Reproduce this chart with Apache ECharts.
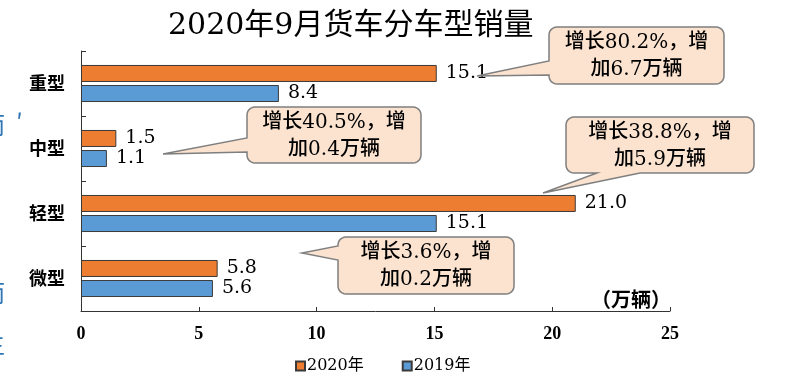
<!DOCTYPE html>
<html>
<head>
<meta charset="utf-8">
<script src="https://cdn.jsdelivr.net/npm/echarts@6/dist/echarts.min.js"></script>
<style>html,body{margin:0;padding:0;background:#fff;}#c{width:793px;height:386px;}</style>
</head>
<body>
<div id="c"></div>
<script>
const categories = ['重型', '中型', '轻型', '微型'];
const sales2020 = [15.1, 1.5, 21.0, 5.8];
const sales2019 = [8.4, 1.1, 15.1, 5.6];
const seriesNames = ['2020年', '2019年'];
const xMin = 0, xMax = 25, xStep = 5;
const calloutTexts = [
  '增长80.2%，增\n加6.7万辆',
  '增长40.5%，增\n加0.4万辆',
  '增长38.8%，增\n加5.9万辆',
  '增长3.6%，增\n加0.2万辆'
];
const titleText = '2020年9月货车分车型销量';
const unitText = '（万辆）';

// bubble layout (annotation geometry, pixels)
const bubbles = [
  {x: 549, y: 27, w: 175, h: 57, side: 'left', b1: 61, b2: 75, tip: [477, 76]},
  {x: 247, y: 107, w: 174, h: 56, side: 'left', b1: 138, b2: 152, tip: [163, 154]},
  {x: 566, y: 117, w: 188, h: 56, side: 'bottom', b1: 597, b2: 640, tip: [543, 193]},
  {x: 338, y: 237, w: 176, h: 57, side: 'left', b1: 246, b2: 260, tip: [302, 253]}
];

function arcPts(cx, cy, r, a0, a1) {
  const pts = [];
  const n = 6;
  for (let i = 0; i <= n; i++) {
    const a = a0 + (a1 - a0) * i / n;
    pts.push([cx + r * Math.cos(a), cy + r * Math.sin(a)]);
  }
  return pts;
}
function bubblePoints(b) {
  const r = 8, x = b.x, y = b.y, w = b.w, h = b.h, P = Math.PI;
  let pts = [];
  pts = pts.concat(arcPts(x + w - r, y + r, r, -P / 2, 0));
  pts = pts.concat(arcPts(x + w - r, y + h - r, r, 0, P / 2));
  if (b.side === 'bottom') {
    pts.push([b.b2, y + h], b.tip, [b.b1, y + h]);
  }
  pts = pts.concat(arcPts(x + r, y + h - r, r, P / 2, P));
  if (b.side === 'left') {
    pts.push([x, b.b2], b.tip, [x, b.b1]);
  }
  pts = pts.concat(arcPts(x + r, y + r, r, P, 1.5 * P));
  return pts;
}

const numFont = "'DejaVu Serif', 'Noto Sans CJK SC', serif";
const cjkFont = "'DejaVu Serif', 'Noto Sans CJK SC', sans-serif";

const graphics = [];
bubbles.forEach((b, i) => {
  graphics.push({
    type: 'polygon',
    shape: {points: bubblePoints(b)},
    style: {fill: '#FBE3D0', stroke: '#7F7F7F', lineWidth: 1.5},
    z: 10
  });
  graphics.push({
    type: 'text',
    x: b.x + b.w / 2,
    y: b.y + b.h / 2 + 1,
    style: {
      text: calloutTexts[i],
      fontSize: 20,
      fontFamily: cjkFont,
      fontWeight: 500,
      fill: '#000',
      align: 'center',
      verticalAlign: 'middle',
      lineHeight: 27
    },
    z: 11
  });
});
graphics.push({
  type: 'text', x: 671, y: 299,
  style: {text: unitText, fontSize: 20, fontWeight: 'bold', fontFamily: "'Noto Sans CJK SC', sans-serif", fill: '#000', align: 'right', verticalAlign: 'middle'},
  z: 5
});
// clipped blue text of the surrounding document at the left edge
[
  {t: '而', x: -19, y: 125},
  {t: '′', x: 16, y: 122},
  {t: '。', x: -20, y: 182},
  {t: '而', x: -19, y: 293},
  {t: '主', x: -19, y: 344}
].forEach(s => graphics.push({
  type: 'text', x: s.x, y: s.y,
  style: {text: s.t, fontSize: 24, fontFamily: "'Noto Sans CJK SC', sans-serif", fill: '#2E75B6', verticalAlign: 'middle'}
}));

const chart = echarts.init(document.getElementById('c'));
chart.setOption({
  animation: false,
  backgroundColor: '#fff',
  title: {
    text: titleText,
    left: 163, top: 6,
    textStyle: {fontSize: 30, fontWeight: 'normal', fontFamily: numFont, color: '#000'}
  },
  legend: {
    data: seriesNames,
    left: 290, top: 353,
    itemWidth: 9, itemHeight: 9, itemGap: 38,
    icon: 'rect',
    textStyle: {fontSize: 16, fontFamily: numFont, color: '#000', padding: [0, 0, 0, -3]}
  },
  grid: {left: 81, right: 123, top: 51, bottom: 75},
  xAxis: {
    type: 'value', min: xMin, max: xMax, interval: xStep,
    axisLine: {show: true, lineStyle: {color: '#333', width: 1}},
    axisTick: {show: true, inside: true, length: 4, lineStyle: {color: '#333'}},
    splitLine: {show: false},
    axisLabel: {margin: 14, fontSize: 18, fontWeight: 'bold', fontFamily: "'Liberation Serif', serif", color: '#000'}
  },
  yAxis: {
    type: 'category', data: categories, inverse: true,
    axisLine: {show: true, lineStyle: {color: '#333', width: 1}},
    axisTick: {show: true, inside: true, length: 5, lineStyle: {color: '#333'}},
    axisLabel: {margin: 16, fontSize: 18, fontWeight: 'bold', fontFamily: "'Noto Sans CJK SC', sans-serif", color: '#000'}
  },
  series: [
    {
      name: seriesNames[0], type: 'bar', data: sales2020,
      barWidth: 17, barGap: '18%',
      itemStyle: {color: '#ED7D31', borderColor: '#3a3a3a', borderWidth: 1},
      label: {show: true, position: 'right', distance: 9, fontSize: 19, fontFamily: numFont, color: '#000', formatter: p => p.value.toFixed(1)}
    },
    {
      name: seriesNames[1], type: 'bar', data: sales2019,
      barWidth: 17,
      itemStyle: {color: '#5B9BD5', borderColor: '#3a3a3a', borderWidth: 1},
      label: {show: true, position: 'right', distance: 9, fontSize: 19, fontFamily: numFont, color: '#000', formatter: p => p.value.toFixed(1)}
    }
  ],
  graphic: graphics
});
</script>
</body>
</html>
